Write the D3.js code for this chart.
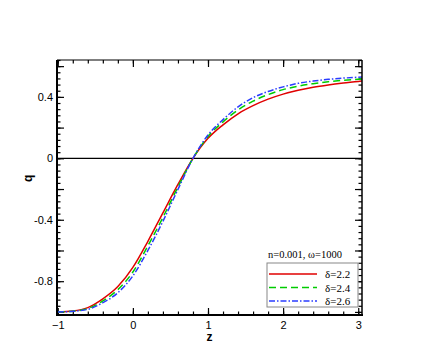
<!DOCTYPE html>
<html>
<head>
<meta charset="utf-8">
<script src="https://cdn.jsdelivr.net/npm/d3@7"></script>
<style>
  body { margin: 0; background: #fff; }
  svg { display: block; }
  .tick text { font-family: "Liberation Sans", Arial, sans-serif; font-size: 11px; fill: #000; }
</style>
</head>
<body>
<svg id="chart" width="436" height="357"></svg>
<script>
// data
var zValues = [-1, -0.8, -0.6, -0.4, -0.2, 0, 0.2, 0.4, 0.6, 0.8, 1.0, 1.2, 1.4, 1.6, 1.8, 2.0, 2.2, 2.4, 2.6, 2.8, 3.0, 3.05];
var qDelta22 = [-1.0, -0.994, -0.972, -0.915, -0.835, -0.71, -0.54, -0.355, -0.17, 0.0, 0.13, 0.218, 0.29, 0.343, 0.385, 0.418, 0.443, 0.463, 0.478, 0.49, 0.5, 0.503];
var qDelta24 = [-1.0, -0.995, -0.978, -0.928, -0.855, -0.74, -0.57, -0.385, -0.187, 0.0, 0.142, 0.237, 0.315, 0.372, 0.415, 0.447, 0.47, 0.486, 0.499, 0.508, 0.515, 0.517];
var qDelta26 = [-1.0, -0.996, -0.983, -0.94, -0.875, -0.765, -0.6, -0.41, -0.202, 0.0, 0.152, 0.252, 0.335, 0.395, 0.435, 0.465, 0.488, 0.503, 0.514, 0.522, 0.528, 0.529];
var seriesNames = ["\u03b4=2.2", "\u03b4=2.4", "\u03b4=2.6"];
var xTickLabels = [-1, 0, 1, 2, 3];
var yTickLabels = [-0.8, -0.4, 0, 0.4];
var legendTitle = "n=0.001, \u03c9=1000";

//------------------------------------------------------------------------------
// Frame and scales
//------------------------------------------------------------------------------
var svg = d3.select("#chart");
var plotLeft = 57, plotRight = 362, plotTop = 60, plotBottom = 315;

var x = d3.scaleLinear().domain([-1.01, 3.05]).range([plotLeft, plotRight]);
var y = d3.scaleLinear().domain([-1.02, 0.64]).range([plotBottom, plotTop]);

var series = [
    { name: seriesNames[0], values: qDelta22, color: "#e00000", dash: null },
    { name: seriesNames[1], values: qDelta24, color: "#00cc00", dash: "7,4" },
    { name: seriesNames[2], values: qDelta26, color: "#2a3cff", dash: "6,2,1.5,2" }
];

// minor / major tick values
var xMinor = d3.range(-1, 3.05, 0.2).map(function(v) { return +v.toFixed(2); });
var yMajor = d3.range(-1.0, 0.65, 0.2).map(function(v) { return +v.toFixed(2); });
var yMinor = d3.range(-1.0, 0.65, 0.04).map(function(v) { return +v.toFixed(2); });

function axisStyle(g) {
    g.select(".domain").remove();
    g.selectAll(".tick line").attr("stroke", "#000").attr("stroke-width", 1.2);
}

function yLabel(d) {
    var shown = yTickLabels.some(function(v) { return Math.abs(v - d) < 1e-6; });
    if (!shown) return "";
    return d === 0 ? "0" : d3.format(".1f")(d).replace("\u2212", "-");
}

// minor ticks, all four sides, pointing inward
svg.append("g").attr("transform", "translate(0," + plotBottom + ")")
    .call(d3.axisBottom(x).tickValues(xMinor).tickSize(-3.5).tickFormat(""))
    .call(axisStyle);
svg.append("g").attr("transform", "translate(0," + plotTop + ")")
    .call(d3.axisTop(x).tickValues(xMinor).tickSize(-3.5).tickFormat(""))
    .call(axisStyle);
svg.append("g").attr("transform", "translate(" + plotLeft + ",0)")
    .call(d3.axisLeft(y).tickValues(yMinor).tickSize(-3.5).tickFormat(""))
    .call(axisStyle);
svg.append("g").attr("transform", "translate(" + plotRight + ",0)")
    .call(d3.axisRight(y).tickValues(yMinor).tickSize(-3.5).tickFormat(""))
    .call(axisStyle);

// major ticks
svg.append("g").attr("transform", "translate(0," + plotBottom + ")")
    .call(d3.axisBottom(x).tickValues(xTickLabels).tickSize(-7).tickPadding(6).tickFormat(d3.format("d")))
    .call(axisStyle);
svg.append("g").attr("transform", "translate(0," + plotTop + ")")
    .call(d3.axisTop(x).tickValues(xTickLabels).tickSize(-7).tickFormat(""))
    .call(axisStyle);
svg.append("g").attr("transform", "translate(" + plotLeft + ",0)")
    .call(d3.axisLeft(y).tickValues(yMajor).tickSize(-7).tickPadding(4).tickFormat(yLabel))
    .call(axisStyle);
svg.append("g").attr("transform", "translate(" + plotRight + ",0)")
    .call(d3.axisRight(y).tickValues(yMajor).tickSize(-7).tickFormat(""))
    .call(axisStyle);

// zero line
svg.append("line")
    .attr("x1", plotLeft).attr("x2", plotRight)
    .attr("y1", y(0)).attr("y2", y(0))
    .attr("stroke", "#000").attr("stroke-width", 1.3);

//------------------------------------------------------------------------------
// Curves
//------------------------------------------------------------------------------
var line = d3.line()
    .x(function(d, i) { return x(zValues[i]); })
    .y(function(d) { return y(d); })
    .curve(d3.curveMonotoneX);

svg.append("defs").append("clipPath").attr("id", "plotclip")
    .append("rect").attr("x", plotLeft).attr("y", plotTop)
    .attr("width", plotRight - plotLeft).attr("height", plotBottom - plotTop);

svg.append("g").attr("clip-path", "url(#plotclip)")
    .selectAll("path.curve")
    .data(series)
    .enter().append("path")
    .attr("class", "curve")
    .attr("d", function(d) { return line(d.values); })
    .attr("fill", "none")
    .attr("stroke", function(d) { return d.color; })
    .attr("stroke-width", 1.5)
    .attr("stroke-dasharray", function(d) { return d.dash; });

// frame
svg.append("line").attr("x1", plotLeft).attr("x2", plotLeft).attr("y1", plotTop).attr("y2", plotBottom)
    .attr("stroke", "#000").attr("stroke-width", 2);
svg.append("line").attr("x1", plotLeft - 1).attr("x2", plotRight + 1).attr("y1", plotBottom).attr("y2", plotBottom)
    .attr("stroke", "#000").attr("stroke-width", 2);
svg.append("line").attr("x1", plotRight).attr("x2", plotRight).attr("y1", plotTop).attr("y2", plotBottom)
    .attr("stroke", "#000").attr("stroke-width", 1.5);
svg.append("line").attr("x1", plotLeft).attr("x2", plotRight).attr("y1", plotTop).attr("y2", plotTop)
    .attr("stroke", "#000").attr("stroke-width", 1.2);

//------------------------------------------------------------------------------
// Axis titles
//------------------------------------------------------------------------------
svg.append("text")
    .attr("x", (plotLeft + plotRight) / 2).attr("y", 341)
    .attr("text-anchor", "middle")
    .style("font-family", "'Liberation Sans', Arial, sans-serif")
    .style("font-size", "12px").style("font-weight", "bold")
    .text("z");

svg.append("text")
    .attr("transform", "translate(32," + y(-0.13) + ") rotate(-90)")
    .attr("text-anchor", "middle")
    .style("font-family", "'Liberation Sans', Arial, sans-serif")
    .style("font-size", "12px").style("font-weight", "bold")
    .text("q");

//------------------------------------------------------------------------------
// Legend
//------------------------------------------------------------------------------
var serif = "'Liberation Serif', 'Times New Roman', serif";

svg.append("text")
    .attr("x", 305).attr("y", 258)
    .attr("text-anchor", "middle")
    .style("font-family", serif).style("font-size", "10.5px")
    .text(legendTitle);

var legend = svg.append("g").attr("transform", "translate(267,263)");

legend.append("rect")
    .attr("x", 0).attr("y", 0).attr("width", 91).attr("height", 44)
    .attr("fill", "#fff").attr("stroke", "#888").attr("stroke-width", 1);

var rows = legend.selectAll("g.row")
    .data(series)
    .enter().append("g")
    .attr("class", "row")
    .attr("transform", function(d, i) { return "translate(0," + (11 + i * 13.5) + ")"; });

rows.append("line")
    .attr("x1", 2).attr("x2", 50)
    .attr("stroke", function(d) { return d.color; })
    .attr("stroke-width", 1.5)
    .attr("stroke-dasharray", function(d) { return d.dash; });

rows.append("text")
    .attr("x", 58).attr("y", 4)
    .style("font-family", serif).style("font-size", "11px")
    .text(function(d) { return d.name; });
</script>
</body>
</html>
